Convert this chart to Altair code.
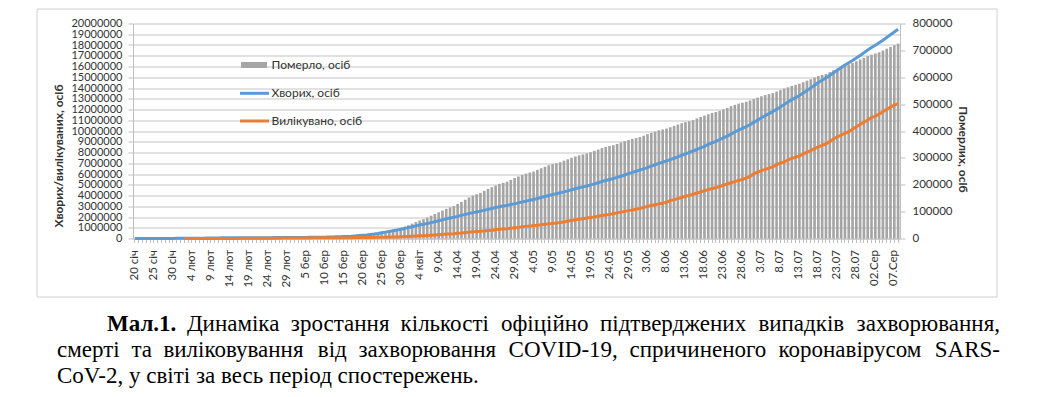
import altair as alt
import pandas as pd

# ---------------- data (thousands) ----------------
# daily values: 20 Jan .. 8 Aug
CASES_JAN = [0.28, 0.31, 0.58, 0.85, 1.32, 2.01, 2.79, 4.47, 6.06, 7.82, 9.82, 11.95]
CASES_FEB = [14.55, 17.39, 20.63, 24.55, 28.28, 31.44, 34.88, 37.55, 40.55, 43.10,
             45.17, 60.37, 66.89, 69.03, 71.23, 73.26, 75.13, 75.64, 76.20, 76.84,
             78.60, 78.97, 79.56, 80.41, 81.39, 82.74, 84.12, 86.01, 88.37]
CASES_MAR = [90.31, 92.84, 95.12, 97.89, 101.8, 105.8, 109.8, 113.6, 119.0, 125.9,
             133.0, 145.2, 156.1, 167.4, 181.5, 197.1, 214.9, 242.7, 272.2, 304.5,
             336.9, 378.2, 418.0, 467.7, 529.6, 593.3, 660.7, 720.1, 782.4, 857.5, 932.6]
CASES_APR = [1013, 1096, 1176, 1250, 1321, 1396, 1480, 1565, 1657, 1735,
             1835, 1905, 1976, 2056, 2152, 2241, 2329, 2407, 2472, 2549,
             2624, 2708, 2795, 2881, 2954, 3024, 3083, 3154, 3219, 3310]
CASES_MAY = [3398, 3479, 3558, 3634, 3718, 3809, 3905, 4000, 4089, 4166,
             4251, 4337, 4432, 4529, 4626, 4727, 4805, 4891, 4983, 5085,
             5189, 5301, 5400, 5494, 5582, 5682, 5790, 5908, 6030, 6155, 6256]
CASES_JUN = [6370, 6479, 6599, 6728, 6859, 6986, 7099, 7207, 7330, 7466,
             7602, 7743, 7876, 8003, 8138, 8279, 8428, 8569, 8750, 8895,
             9043, 9193, 9353, 9531, 9710, 9902, 10084, 10243, 10404, 10585]
CASES_JUL = [10802, 11013, 11227, 11426, 11618, 11806, 12019, 12239, 12460, 12695,
             12920, 13108, 13308, 13530, 13760, 14011, 14261, 14515, 14723, 14941,
             15170, 15420, 15660, 15910, 16140, 16350, 16560, 16790, 17030, 17280, 17530]
CASES_AUG = [17760, 17980, 18200, 18440, 18690, 18950, 19210, 19460]

DEATHS_JAN = [0.006, 0.006, 0.017, 0.025, 0.041, 0.056, 0.080, 0.106, 0.132, 0.170, 0.213, 0.259]
DEATHS_FEB = [0.304, 0.362, 0.426, 0.492, 0.565, 0.638, 0.724, 0.813, 0.910, 1.018,
              1.115, 1.261, 1.383, 1.526, 1.669, 1.775, 1.873, 2.009, 2.126, 2.247,
              2.360, 2.460, 2.618, 2.699, 2.763, 2.800, 2.858, 2.923, 2.977]
DEATHS_MAR = [3.050, 3.117, 3.202, 3.285, 3.387, 3.494, 3.599, 3.827, 4.025, 4.296,
              4.628, 4.981, 5.428, 5.835, 6.515, 7.162, 7.982, 8.968, 10.04, 11.43,
              13.05, 14.71, 16.76, 19.06, 21.84, 24.89, 28.45, 32.14, 35.41, 39.55, 44.28]
DEATHS_APR = [49.33, 55.36, 61.34, 66.97, 71.92, 77.28, 84.84, 91.09, 97.51, 104.3,
              110.4, 115.9, 121.0, 128.4, 136.2, 144.3, 153.0, 159.5, 164.9, 169.9,
              177.5, 184.6, 191.1, 197.1, 203.2, 206.9, 211.4, 217.9, 224.9, 230.8]
DEATHS_MAY = [236.3, 241.6, 245.5, 249.0, 255.4, 261.3, 267.0, 272.6, 276.7, 280.4,
              283.8, 289.5, 294.8, 300.1, 305.3, 309.4, 312.7, 316.2, 321.0, 326.0,
              331.0, 336.4, 340.9, 344.0, 347.2, 351.8, 357.1, 362.0, 366.7, 370.7, 373.8]
DEATHS_JUN = [377.4, 382.5, 388.0, 393.1, 398.0, 402.3, 405.4, 409.1, 414.0, 419.1,
              424.0, 428.6, 432.9, 436.3, 440.2, 446.9, 452.2, 457.3, 462.5, 467.1,
              470.8, 474.9, 480.4, 485.8, 492.2, 497.2, 501.9, 505.1, 508.8, 513.9]
DEATHS_JUL = [519.1, 524.2, 529.3, 533.6, 537.3, 541.1, 546.8, 552.2, 557.5, 562.8,
              567.9, 571.8, 575.7, 581.5, 587.2, 592.7, 599.0, 604.3, 608.6, 612.4,
              619.0, 626.1, 632.2, 638.5, 644.0, 648.2, 653.2, 659.4, 666.1, 672.3, 678.5]
DEATHS_AUG = [684.1, 688.5, 692.8, 699.4, 706.2, 712.8, 719.3, 725.0]

# recovered: series starts on 2 Feb
REC_FEB = [0.52, 0.62, 0.90, 1.15, 1.54, 2.05, 2.65, 3.24, 3.95, 4.68,
           5.15, 6.30, 8.06, 9.40, 10.86, 12.58, 14.37, 16.15, 18.17, 18.89,
           22.89, 23.39, 25.23, 27.91, 30.38, 33.28, 36.71, 39.78]
REC_MAR = [42.72, 45.60, 48.23, 51.17, 53.80, 55.87, 58.36, 60.69, 62.49, 64.40,
           67.00, 68.32, 70.25, 72.62, 76.03, 78.09, 80.84, 83.31, 84.96, 87.40,
           91.68, 97.24, 100.6, 107.3, 114.3, 122.1, 132.5, 144.1, 149.1, 164.6, 176.4]
REC_APR = [194.3, 211.6, 226.1, 246.2, 260.0, 284.8, 306.6, 328.7, 356.4, 380.3,
           407.4, 428.1, 449.5, 484.5, 517.4, 567.4, 591.0, 619.4, 644.6, 668.5,
           706.4, 736.6, 771.0, 819.3, 852.9, 880.0, 912.0, 952.0, 993.0, 1034]
REC_MAY = [1090, 1128, 1163, 1192, 1228, 1277, 1316, 1361, 1404, 1431,
           1479, 1525, 1632, 1684, 1735, 1787, 1843, 1902, 1948, 2003,
           2073, 2142, 2193, 2243, 2304, 2386, 2453, 2524, 2591, 2656, 2715]
REC_JUN = [2800, 2888, 2985, 3068, 3145, 3222, 3286, 3372, 3522, 3613,
           3706, 3817, 3927, 4014, 4113, 4234, 4337, 4441, 4547, 4652,
           4727, 4838, 4958, 5071, 5182, 5288, 5392, 5501, 5625, 5772]
REC_JUL = [6031, 6163, 6306, 6435, 6543, 6660, 6883, 7016, 7116, 7305,
           7450, 7557, 7689, 7856, 8032, 8177, 8355, 8528, 8672, 8803,
           9027, 9251, 9460, 9613, 9788, 9929, 10156, 10402, 10606, 10819, 11019]
REC_AUG = [11250, 11384, 11570, 11785, 12025, 12218, 12400, 12550]

TICK_LABELS = ["20 січ", "25 січ", "30 січ", "4 лют", "9 лют", "14 лют", "19 лют", "24 лют",
               "29 лют", "5 бер", "10 бер", "15 бер", "20 бер", "25 бер", "30 бер", "4 квіт",
               "9.04", "14.04", "19.04", "24.04", "29.04", "4.05", "9.05", "14.05", "19.05",
               "24.05", "29.05", "3.06", "8.06", "13.06", "18.06", "23.06", "28.06", "3.07",
               "8.07", "13.07", "18.07", "23.07", "28.07", "02.Сер", "07.Сер"]

SERIES = ["Померло, осіб", "Хворих, осіб", "Вилікувано, осіб"]
LEFT_TITLE = "Хворих/вилікуваних, осіб"
RIGHT_TITLE = "Померлих, осіб"
CAPTION_L1 = ["Мал.1.", "Динаміка", "зростання", "кількості", "офіційно", "підтверджених",
              "випадків", "захворювання,"]
CAPTION_L2 = ["смерті", "та", "виліковування", "від", "захворювання", "COVID-19,",
              "спричиненого", "коронавірусом", "SARS-"]
CAPTION_L3 = "CoV-2, у світі за весь період спостережень."

# ---------------- build table ----------------
cases = [v * 1000 for v in CASES_JAN + CASES_FEB + CASES_MAR + CASES_APR + CASES_MAY + CASES_JUN + CASES_JUL + CASES_AUG]
deaths = [v * 1000 for v in DEATHS_JAN + DEATHS_FEB + DEATHS_MAR + DEATHS_APR + DEATHS_MAY + DEATHS_JUN + DEATHS_JUL + DEATHS_AUG]
rec_vals = [v * 1000 for v in REC_FEB + REC_MAR + REC_APR + REC_MAY + REC_JUN + REC_JUL + REC_AUG]
n = len(cases)
rec = [None] * (n - len(rec_vals)) + rec_vals
days = list(range(n))
df = pd.DataFrame({"d": days, "cases": cases, "deaths": deaths, "rec": rec})
df_rec = df.dropna(subset=["rec"])

# ---------------- layout ----------------
W, H = 767, 215
PL, PT = 125, 15.5
FONT = "Lato"
TXT = "#333333"
GRID = "#c4c4c4"
BLUE, ORANGE, GRAY = "#5B9BD5", "#ED7D31", "#A5A5A5"

label_expr = ("datum.value % 5 == 0 ? [" + ",".join("'%s'" % s for s in TICK_LABELS)
              + "][datum.value / 5] : ''")

x_enc = alt.X("d:O",
              scale=alt.Scale(domain=days, paddingInner=0.3, paddingOuter=0.15),
              axis=alt.Axis(title=None, labelExpr=label_expr, labelAngle=-90, labelOverlap=False,
                            labelFont=FONT, labelFontSize=11.5, labelColor=TXT, labelPadding=7,
                            tickColor="#bfbfbf", tickSize=4, domainColor="#bfbfbf", grid=False))

bars = alt.Chart(df).mark_bar(color=GRAY).encode(
    x=x_enc,
    y=alt.Y("deaths:Q",
            scale=alt.Scale(domain=[0, 800000], nice=False),
            axis=alt.Axis(orient="right", values=list(range(0, 800001, 100000)), format="d",
                          grid=False, labelFont=FONT, labelFontSize=11.5, labelColor=TXT,
                          labelOverlap=False,
                          tickColor="#bfbfbf", tickSize=5, labelPadding=7, domainColor="#bfbfbf",
                          title=RIGHT_TITLE, titleAngle=90, titleFont=FONT, titleFontSize=12,
                          titleFontWeight="bold", titleColor=TXT, titleX=62.7, titleY=125.5,
                          titleAlign="center", titleBaseline="middle")),
)

left_axis = alt.Axis(orient="left", values=list(range(0, 20000001, 1000000)), format="d",
                     grid=True, gridColor=GRID, labelFont=FONT, labelFontSize=11,
                     labelOverlap=False, labelBound=False,
                     labelColor=TXT, tickColor="#bfbfbf", tickSize=5, labelPadding=6,
                     domainColor="#bfbfbf", title=LEFT_TITLE, titleAngle=-90,
                     titleFont=FONT, titleFontSize=12, titleFontWeight="bold",
                     titleColor=TXT, titleX=-74.7, titleY=132, titleAlign="center",
                     titleBaseline="middle")
left_scale = alt.Scale(domain=[0, 20000000], nice=False)

blue_line = alt.Chart(df).mark_line(color=BLUE, strokeWidth=3, strokeJoin="round").encode(
    x=x_enc, y=alt.Y("cases:Q", scale=left_scale, axis=left_axis))
orange_line = alt.Chart(df_rec).mark_line(color=ORANGE, strokeWidth=3, strokeJoin="round").encode(
    x=x_enc, y=alt.Y("rec:Q", scale=left_scale, axis=left_axis))
lines = alt.layer(blue_line, orange_line)

one = pd.DataFrame({"k": [0]})

border = alt.Chart(one).mark_rect(fillOpacity=0, stroke="#d0d0d0", strokeWidth=1).encode(
    x=alt.value(-96), x2=alt.value(864), y=alt.value(-14.5), y2=alt.value(273.5))

# legend (inside the plot)
leg = []
leg.append(alt.Chart(one).mark_rect(color=GRAY).encode(
    x=alt.value(108), x2=alt.value(134), y=alt.value(38.5), y2=alt.value(44.5)))
leg.append(alt.Chart(one).mark_rule(color=BLUE, strokeWidth=3).encode(
    x=alt.value(107), x2=alt.value(136), y=alt.value(69.8)))
leg.append(alt.Chart(one).mark_rule(color=ORANGE, strokeWidth=3).encode(
    x=alt.value(107), x2=alt.value(136), y=alt.value(97.5)))
for name, yy in zip(SERIES, [41.5, 69.8, 97.5]):
    leg.append(alt.Chart(one).mark_text(align="left", baseline="middle", font=FONT,
                                        fontSize=12, color=TXT).encode(
        x=alt.value(138.5), y=alt.value(yy), text=alt.value(name)))

# caption (justified lines)
W_REG = {'а': 444, 'б': 509, 'в': 472, 'г': 410, 'д': 509, 'е': 444, 'ж': 691, 'з': 395, 'и': 535,
         'й': 535, 'к': 486, 'л': 499, 'м': 633, 'н': 535, 'о': 500, 'п': 535, 'р': 500, 'с': 444,
         'т': 437, 'у': 500, 'ф': 648, 'х': 500, 'ц': 535, 'ч': 503, 'ш': 770, 'щ': 770, 'ь': 456,
         'ю': 747, 'я': 482, 'і': 278, 'Д': 667, 'C': 667, 'O': 722, 'V': 722, 'I': 333, 'D': 722,
         'S': 556, 'A': 722, 'R': 667, '-': 333, ',': 250, '.': 250, ' ': 250}
W_BOLD = {'М': 944, 'а': 500, 'л': 531, '.': 250, '1': 500}
CFS = 23
CFONT = "Liberation Serif"


def tw(s, bold=False):
    tab = W_BOLD if bold else W_REG
    return sum(tab.get(c, 500) for c in s) / 1000 * CFS


cap = []


def justify(words, x0, x1, y, first_bold=False):
    widths = [tw(w, first_bold and i == 0) for i, w in enumerate(words)]
    gap = (x1 - x0 - sum(widths)) / (len(words) - 1)
    x = x0
    for i, w in enumerate(words):
        last = i == len(words) - 1
        cap.append(alt.Chart(one).mark_text(
            align="right" if last else "left", baseline="alphabetic", font=CFONT, fontSize=CFS,
            fontWeight="bold" if (first_bold and i == 0) else "normal", color="black").encode(
            x=alt.value(x1 if last else x), y=alt.value(y), text=alt.value(w)))
        x += widths[i] + gap


justify(CAPTION_L1, 107 - 133, 1000 - 133, 307.5, first_bold=True)
justify(CAPTION_L2, 57 - 133, 1000 - 133, 333.5)
cap.append(alt.Chart(one).mark_text(align="left", baseline="alphabetic", font=CFONT, fontSize=CFS,
                                    color="black").encode(
    x=alt.value(57 - 133), y=alt.value(359.5), text=alt.value(CAPTION_L3)))

chart = alt.layer(border, bars, lines, *leg, *cap).resolve_scale(y="independent").properties(
    width=W, height=H,
    autosize=alt.AutoSizeParams(type="none"),
    padding={"left": PL, "top": PT, "right": 135, "bottom": 150},
).configure_view(stroke=None)

chart.save("out.html", embed_options={"renderer": "svg", "actions": False})
